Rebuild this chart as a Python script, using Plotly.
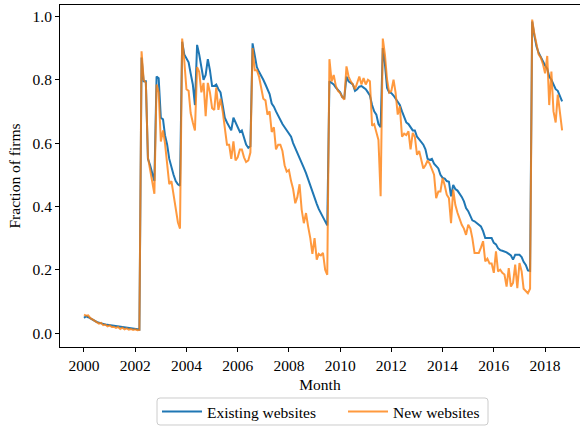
import pandas as pd
import plotly.graph_objects as go

# Monthly share of firms, Jan 2000 - Sep 2018
existing_websites = [
    # 2000-01 .. 2002-03
    0.048, 0.053, 0.050, 0.046, 0.042, 0.038, 0.035, 0.033, 0.030, 0.029,
    0.027, 0.026, 0.024, 0.023, 0.022, 0.021, 0.021, 0.019, 0.018, 0.018,
    0.017, 0.016, 0.015, 0.014, 0.013, 0.012, 0.011,
    # 2002-04 .. 2003-10
    0.87, 0.795, 0.795, 0.55, 0.53, 0.505, 0.48, 0.81, 0.805, 0.68,
    0.675, 0.625, 0.595, 0.55, 0.52, 0.50, 0.48, 0.47, 0.465,
    # 2003-11 .. 2005-02
    0.92, 0.88, 0.865, 0.855, 0.82, 0.785, 0.72, 0.91, 0.88, 0.835,
    0.80, 0.815, 0.865, 0.83, 0.78, 0.78,
    # 2005-03 .. 2006-07
    0.785, 0.77, 0.76, 0.72, 0.68, 0.665, 0.65, 0.64, 0.68, 0.665,
    0.65, 0.635, 0.64, 0.62, 0.595, 0.585, 0.59,
    # 2006-08 .. 2007-12
    0.915, 0.88, 0.84, 0.825, 0.81, 0.80, 0.785, 0.77, 0.755, 0.725,
    0.715, 0.70, 0.685, 0.675, 0.66, 0.65, 0.64,
    # 2008-01 .. 2009-07
    0.628, 0.62, 0.60, 0.585, 0.572, 0.555, 0.54, 0.522, 0.505, 0.485,
    0.462, 0.445, 0.425, 0.408, 0.392, 0.378, 0.365, 0.352, 0.34,
    # 2009-08 .. 2011-08
    0.795, 0.79, 0.785, 0.775, 0.768, 0.76, 0.745, 0.742, 0.81, 0.795,
    0.79, 0.785, 0.765, 0.77, 0.778, 0.78, 0.775, 0.77, 0.76, 0.75,
    0.72, 0.70, 0.69, 0.66, 0.65,
    # 2011-09 .. 2013-02
    0.90, 0.85, 0.774, 0.76, 0.758, 0.75, 0.74, 0.73, 0.72, 0.70,
    0.684, 0.665, 0.66, 0.65, 0.64, 0.64, 0.62, 0.612,
    # 2013-03 .. 2015-09
    0.605, 0.595, 0.58, 0.55, 0.547, 0.55, 0.535, 0.528, 0.52, 0.50,
    0.49, 0.488, 0.48, 0.478, 0.432, 0.468, 0.455, 0.45, 0.44, 0.43,
    0.416, 0.395, 0.385, 0.37, 0.356, 0.353, 0.348, 0.342, 0.337, 0.322,
    0.30,
    # 2015-10 .. 2018-09
    0.30, 0.30, 0.30, 0.285, 0.28, 0.268, 0.262, 0.26, 0.258, 0.255,
    0.25, 0.245, 0.232, 0.247, 0.247, 0.247, 0.24, 0.225, 0.215, 0.198,
    0.196, 0.984, 0.94, 0.905, 0.885, 0.87, 0.858, 0.845, 0.835, 0.81,
    0.80, 0.785, 0.77, 0.765, 0.745, 0.732,
]

new_websites = [
    # 2000-01 .. 2002-03
    0.058, 0.055, 0.056, 0.047, 0.043, 0.038, 0.036, 0.030, 0.032, 0.025,
    0.027, 0.021, 0.024, 0.019, 0.020, 0.016, 0.019, 0.013, 0.017, 0.012,
    0.015, 0.011, 0.013, 0.010, 0.012, 0.009, 0.010,
    # 2002-04 .. 2003-10
    0.89, 0.80, 0.79, 0.555, 0.52, 0.48, 0.44, 0.785, 0.76, 0.605,
    0.64, 0.60, 0.52, 0.47, 0.48, 0.44, 0.40, 0.35, 0.33,
    # 2003-11 .. 2005-02
    0.93, 0.86, 0.77, 0.765, 0.695, 0.665, 0.64, 0.84, 0.825, 0.76,
    0.79, 0.685, 0.79, 0.76, 0.71, 0.705,
    # 2005-03 .. 2006-07
    0.775, 0.705, 0.74, 0.70, 0.64, 0.595, 0.595, 0.55, 0.605, 0.545,
    0.555, 0.58, 0.58, 0.555, 0.54, 0.545, 0.57,
    # 2006-08 .. 2007-12
    0.90, 0.83, 0.83, 0.81, 0.78, 0.74, 0.735, 0.69, 0.70, 0.635,
    0.65, 0.58, 0.595, 0.595, 0.575, 0.53, 0.51,
    # 2008-01 .. 2009-07
    0.515, 0.48, 0.455, 0.41, 0.43, 0.47, 0.39, 0.347, 0.379, 0.337,
    0.30, 0.25, 0.30, 0.232, 0.25, 0.245, 0.253, 0.20, 0.184,
    # 2009-08 .. 2011-08
    0.865, 0.795, 0.815, 0.78, 0.765, 0.758, 0.745, 0.737, 0.842, 0.81,
    0.795, 0.785, 0.77, 0.79, 0.81, 0.785, 0.805, 0.785, 0.80, 0.795,
    0.655, 0.66, 0.637, 0.61, 0.432,
    # 2011-09 .. 2013-02
    0.93, 0.88, 0.80, 0.76, 0.765, 0.80, 0.76, 0.69, 0.716, 0.62,
    0.63, 0.625, 0.637, 0.58, 0.632, 0.62, 0.563, 0.575,
    # 2013-03 .. 2015-09
    0.55, 0.52, 0.53, 0.545, 0.535, 0.52, 0.50, 0.426, 0.447, 0.447,
    0.49, 0.465, 0.437, 0.426, 0.347, 0.453, 0.405, 0.38, 0.36, 0.342,
    0.33, 0.31, 0.342, 0.33, 0.30, 0.253, 0.253, 0.253, 0.27, 0.29,
    0.226,
    # 2015-10 .. 2018-09
    0.235, 0.22, 0.22, 0.19, 0.258, 0.195, 0.20, 0.19, 0.185, 0.147,
    0.205, 0.147, 0.158, 0.216, 0.142, 0.221, 0.195, 0.14, 0.132, 0.126,
    0.14, 0.99, 0.945, 0.91, 0.88, 0.87, 0.85, 0.82, 0.875, 0.72,
    0.826, 0.70, 0.665, 0.753, 0.70, 0.64,
]

assert len(existing_websites) == len(new_websites)
months = pd.date_range("2000-01-01", periods=len(existing_websites), freq="MS")

x_tick_years = list(range(2000, 2019, 2))
y_ticks = [0.0, 0.2, 0.4, 0.6, 0.8, 1.0]

FONT = "Liberation Serif"
FS = 15.5
TXT = dict(family=FONT, size=FS, color="black")

W, H = 580, 426
M_L, M_R, M_T, M_B = 60, 0, 5, 79
PLOT_W = W - M_L - M_R
PLOT_H = H - M_T - M_B


def to_paper(px, py):
    """Convert figure pixel coordinates to paper coordinates."""
    return (px - M_L) / PLOT_W, (H - M_B - py) / PLOT_H


def rounded_box(x0, y0, x1, y1, r):
    """SVG path (paper coords) for a box with rounded corners, given in pixels."""
    pts = [
        ("M", x0 + r, y0), ("L", x1 - r, y0), ("Q", x1, y0, x1, y0 + r),
        ("L", x1, y1 - r), ("Q", x1, y1, x1 - r, y1), ("L", x0 + r, y1),
        ("Q", x0, y1, x0, y1 - r), ("L", x0, y0 + r), ("Q", x0, y0, x0 + r, y0),
    ]
    parts = []
    for p in pts:
        cmd, coords = p[0], p[1:]
        xy = []
        for i in range(0, len(coords), 2):
            u, v = to_paper(coords[i], coords[i + 1])
            xy.append(f"{u:.5f},{v:.5f}")
        parts.append(cmd + " " + " ".join(xy))
    return " ".join(parts) + " Z"


fig = go.Figure()
fig.add_trace(go.Scatter(
    x=months, y=existing_websites, mode="lines", name="Existing websites",
    line=dict(color="#1f77b4", width=2),
))
fig.add_trace(go.Scatter(
    x=months, y=new_websites, mode="lines", name="New websites",
    line=dict(color="rgba(255,127,14,0.8)", width=2),
))

# legend frame
fig.add_shape(
    type="path", xref="paper", yref="paper",
    path=rounded_box(157, 398, 488, 425, 3),
    line=dict(color="#cccccc", width=1), fillcolor="white", layer="below",
)

fig.update_layout(
    width=W, height=H,
    margin=dict(l=M_L, r=M_R, t=M_T, b=M_B, autoexpand=False),
    paper_bgcolor="white", plot_bgcolor="white",
    font=TXT,
    showlegend=True,
    legend=dict(
        orientation="h", xref="container", yref="container",
        x=157 / W, xanchor="left", y=(H - 395) / H, yanchor="top",
        borderwidth=0, bgcolor="rgba(0,0,0,0)",
        font=TXT, entrywidth=131, itemwidth=40,
    ),
    xaxis=dict(
        type="date",
        range=["1999-01-24", "2019-05-14"],
        tickvals=[f"{y}-01-01" for y in x_tick_years],
        ticktext=[str(y) for y in x_tick_years],
        tickfont=TXT,
        ticks="outside", ticklen=4, tickcolor="black",
        showline=True, linecolor="black", linewidth=1, mirror=True,
        showgrid=False, zeroline=False,
        title=dict(text="Month", standoff=6, font=TXT),
    ),
    yaxis=dict(
        range=[-0.044, 1.036],
        tickvals=y_ticks, tickformat=".1f",
        tickfont=TXT,
        ticks="outside", ticklen=4, tickcolor="black",
        showline=True, linecolor="black", linewidth=1,
        showgrid=False, zeroline=False,
        title=dict(text="Fraction of firms", standoff=8, font=TXT),
    ),
)

fig.write_html("out.html")
